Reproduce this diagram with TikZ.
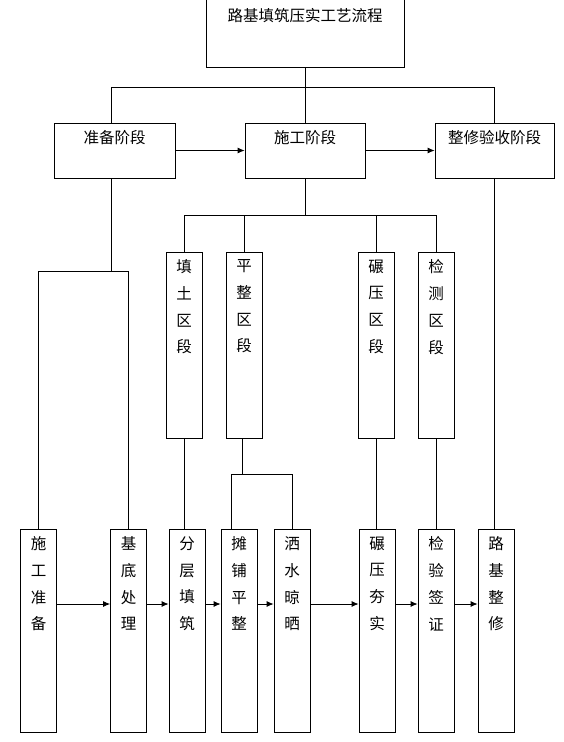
\documentclass[tikz,border=0pt]{standalone}
\usepackage{fontspec}
\newfontfamily\cjk{Noto Sans CJK SC}
\usetikzlibrary{arrows.meta}

\tikzset{
  box/.style={draw, line width=0.8pt, inner sep=0pt},
  colbox/.style={box, minimum width=36pt},
  txt/.style={anchor=north, inner sep=0pt, align=center, font={\cjk\fontsize{15.5}{26.7}\selectfont}},
  link/.style={line width=0.8pt},
  arr/.style={line width=0.8pt, -{Latex[length=7pt,width=6pt]}}
}

\begin{document}
\begin{tikzpicture}[x=1pt, y=-1pt]
		
		\useasboundingbox (0,0) rectangle (563,742);
		
		% Title box
		\node[box, minimum width=198pt, minimum height=68pt] (title) at (305,33) {};
		\node[txt] (titlet) at ([yshift=-10pt]title.north) {路基填筑压实工艺流程};
		
		% The three stages
		\node[box, minimum width=121pt, minimum height=55pt] (zb) at (114.5,150.5) {};
		\node[box, minimum width=120pt, minimum height=55pt] (sg) at (305,150.5) {};
		\node[box, minimum width=119pt, minimum height=55pt] (zx) at (494.5,150.5) {};
		\node[txt] (zbt) at ([yshift=-8pt]zb.north) {准备阶段};
		\node[txt] (sgt) at ([yshift=-8pt]sg.north) {施工阶段};
		\node[txt] (zxt) at ([yshift=-8pt]zx.north) {整修验收阶段};
		
		% Sections of the construction stage
		\foreach \n/\x/\t in {tt/184/{填\\土\\区\\段}, pz/244/{平\\整\\区\\段},
			ny/376/{碾\\压\\区\\段}, jc/436/{检\\测\\区\\段}} {
			\node[colbox, minimum height=186pt] (\n) at (\x,345) {};
			\node[txt] (\n t) at ([yshift=-8pt]\n.north) {\t};
		}
		
		% Working steps
		\foreach \n/\x/\t in {sgzb/38.5/{施\\工\\准\\备}, jd/128.5/{基\\底\\处\\理},
			fc/187/{分\\层\\填\\筑}, tp/239/{摊\\铺\\平\\整}, sx/292/{洒\\水\\晾\\晒},
			nh/377/{碾\\压\\夯\\实}, jy/436/{检\\验\\签\\证}, lj/496/{路\\基\\整\\修}} {
			\node[colbox, minimum height=203pt] (\n) at (\x,630.5) {};
			\node[txt] (\n t) at ([yshift=-8pt]\n.north) {\t};
		}
		
		% Bus lines
		\coordinate (bus1) at (0,87);
		\coordinate (bus2) at (0,215);
		\coordinate (bus3) at (0,271);
		\coordinate (bus4) at (0,474);
		\coordinate (flow) at (0,604);
		
		% Tree from the title
		\draw[link] (title.south) -- (sg.north);
		\draw[link] ([xshift=-3.5pt]zb.north) -- ([xshift=-3.5pt]zb.north |- bus1) -- (zx.north |- bus1) -- (zx.north);
		
		% Tree under the construction stage
		\draw[link] (sg.south) -- (sg.south |- bus2);
		\draw[link] (tt.north) -- (tt.north |- bus2) -- (jc.north |- bus2) -- (jc.north);
		\draw[link] (pz.north) -- (pz.north |- bus2);
		\draw[link] (ny.north) -- (ny.north |- bus2);
		
		% Preparation splits in two
		\draw[link] ([xshift=-3.5pt]zb.south) -- ([xshift=-3.5pt]zb.south |- bus3);
		\draw[link] (sgzb.north) -- (sgzb.north |- bus3) -- (jd.north |- bus3) -- (jd.north);
		
		% Levelling splits in two
		\draw[link] ([xshift=-2pt]pz.south) -- ([xshift=-2pt]pz.south |- bus4);
		\draw[link] ([xshift=-8pt]tp.north) |- (sx.north |- bus4) -- (sx.north);
		
		% Straight drops
		\draw[link] (tt.south) -- (tt.south |- fc.north);
		\draw[link] (ny.south) -- (ny.south |- nh.north);
		\draw[link] (jc.south) -- (jc.south |- jy.north);
		\draw[link] (zx.south) -- (zx.south |- lj.north);
		
		% Arrows between stages
		\draw[arr] (zb) -- (sg);
		\draw[arr] (sg) -- (zx);
		
		% Arrows between steps
		\foreach \a/\b in {sgzb/jd, jd/fc, fc/tp, tp/sx, sx/nh, nh/jy, jy/lj} {
			\draw[arr] (\a.east |- flow) -- (\b.west |- flow);
		}
		
	\end{tikzpicture}
\end{document}
